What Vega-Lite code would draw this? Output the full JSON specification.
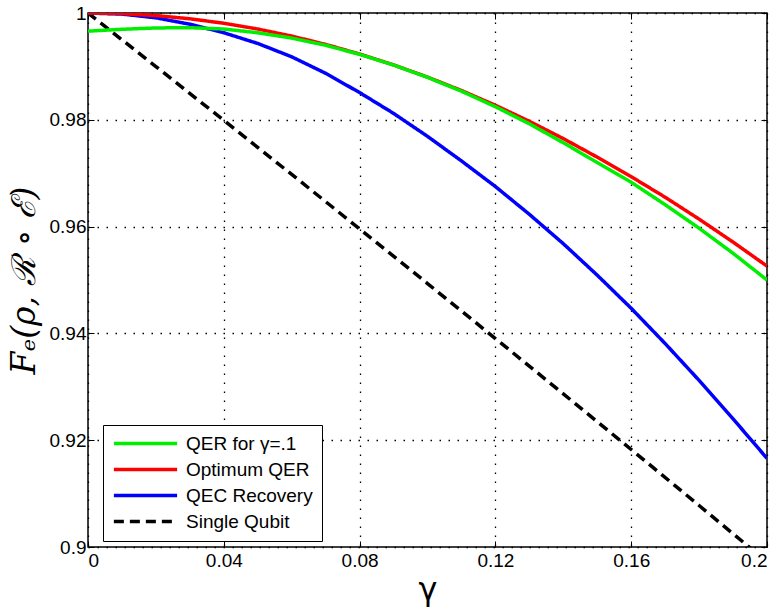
{
  "$schema": "https://vega.github.io/schema/vega-lite/v6.json",
  "autosize": "none",
  "width": 679,
  "height": 534,
  "padding": {"left": 88, "top": 13, "right": 12, "bottom": 61},
  "background": "white",
  "config": {
    "view": {"stroke": "black", "strokeWidth": 1.5},
    "font": "Liberation Sans"
  },
  "data": {"values": [
    {"g": 0.00, "F": 1.0, "s": "Single Qubit"},
    {"g": 0.02, "F": 0.98997, "s": "Single Qubit"},
    {"g": 0.04, "F": 0.97990, "s": "Single Qubit"},
    {"g": 0.06, "F": 0.96977, "s": "Single Qubit"},
    {"g": 0.08, "F": 0.95958, "s": "Single Qubit"},
    {"g": 0.10, "F": 0.94934, "s": "Single Qubit"},
    {"g": 0.12, "F": 0.93904, "s": "Single Qubit"},
    {"g": 0.14, "F": 0.92868, "s": "Single Qubit"},
    {"g": 0.16, "F": 0.91826, "s": "Single Qubit"},
    {"g": 0.18, "F": 0.90777, "s": "Single Qubit"},
    {"g": 0.20, "F": 0.89721, "s": "Single Qubit"},
    {"g": 0.00, "F": 1.0, "s": "QEC Recovery"},
    {"g": 0.01, "F": 0.9998, "s": "QEC Recovery"},
    {"g": 0.02, "F": 0.9991, "s": "QEC Recovery"},
    {"g": 0.03, "F": 0.9979, "s": "QEC Recovery"},
    {"g": 0.04, "F": 0.9963, "s": "QEC Recovery"},
    {"g": 0.05, "F": 0.9943, "s": "QEC Recovery"},
    {"g": 0.06, "F": 0.9918, "s": "QEC Recovery"},
    {"g": 0.07, "F": 0.9887, "s": "QEC Recovery"},
    {"g": 0.08, "F": 0.9851, "s": "QEC Recovery"},
    {"g": 0.09, "F": 0.9812, "s": "QEC Recovery"},
    {"g": 0.10, "F": 0.9769, "s": "QEC Recovery"},
    {"g": 0.11, "F": 0.9723, "s": "QEC Recovery"},
    {"g": 0.12, "F": 0.9675, "s": "QEC Recovery"},
    {"g": 0.13, "F": 0.9623, "s": "QEC Recovery"},
    {"g": 0.14, "F": 0.9568, "s": "QEC Recovery"},
    {"g": 0.15, "F": 0.9509, "s": "QEC Recovery"},
    {"g": 0.16, "F": 0.9447, "s": "QEC Recovery"},
    {"g": 0.17, "F": 0.9381, "s": "QEC Recovery"},
    {"g": 0.18, "F": 0.9312, "s": "QEC Recovery"},
    {"g": 0.19, "F": 0.9240, "s": "QEC Recovery"},
    {"g": 0.20, "F": 0.9166, "s": "QEC Recovery"},
    {"g": 0.00, "F": 1.0, "s": "Optimum QER"},
    {"g": 0.01, "F": 0.99988, "s": "Optimum QER"},
    {"g": 0.02, "F": 0.99952, "s": "Optimum QER"},
    {"g": 0.03, "F": 0.99892, "s": "Optimum QER"},
    {"g": 0.04, "F": 0.99808, "s": "Optimum QER"},
    {"g": 0.05, "F": 0.99700, "s": "Optimum QER"},
    {"g": 0.06, "F": 0.99568, "s": "Optimum QER"},
    {"g": 0.07, "F": 0.99412, "s": "Optimum QER"},
    {"g": 0.08, "F": 0.99232, "s": "Optimum QER"},
    {"g": 0.09, "F": 0.99028, "s": "Optimum QER"},
    {"g": 0.10, "F": 0.98800, "s": "Optimum QER"},
    {"g": 0.11, "F": 0.98548, "s": "Optimum QER"},
    {"g": 0.12, "F": 0.98272, "s": "Optimum QER"},
    {"g": 0.13, "F": 0.97972, "s": "Optimum QER"},
    {"g": 0.14, "F": 0.97648, "s": "Optimum QER"},
    {"g": 0.15, "F": 0.97300, "s": "Optimum QER"},
    {"g": 0.16, "F": 0.96935, "s": "Optimum QER"},
    {"g": 0.17, "F": 0.96550, "s": "Optimum QER"},
    {"g": 0.18, "F": 0.96140, "s": "Optimum QER"},
    {"g": 0.19, "F": 0.95710, "s": "Optimum QER"},
    {"g": 0.20, "F": 0.95260, "s": "Optimum QER"},
    {"g": 0.00, "F": 0.99660, "s": "QER for γ=.1"},
    {"g": 0.01, "F": 0.99695, "s": "QER for γ=.1"},
    {"g": 0.02, "F": 0.99720, "s": "QER for γ=.1"},
    {"g": 0.03, "F": 0.99725, "s": "QER for γ=.1"},
    {"g": 0.04, "F": 0.99700, "s": "QER for γ=.1"},
    {"g": 0.05, "F": 0.99630, "s": "QER for γ=.1"},
    {"g": 0.06, "F": 0.99530, "s": "QER for γ=.1"},
    {"g": 0.07, "F": 0.99395, "s": "QER for γ=.1"},
    {"g": 0.08, "F": 0.99225, "s": "QER for γ=.1"},
    {"g": 0.09, "F": 0.99025, "s": "QER for γ=.1"},
    {"g": 0.10, "F": 0.98795, "s": "QER for γ=.1"},
    {"g": 0.11, "F": 0.98535, "s": "QER for γ=.1"},
    {"g": 0.12, "F": 0.98245, "s": "QER for γ=.1"},
    {"g": 0.13, "F": 0.97925, "s": "QER for γ=.1"},
    {"g": 0.14, "F": 0.97570, "s": "QER for γ=.1"},
    {"g": 0.15, "F": 0.97200, "s": "QER for γ=.1"},
    {"g": 0.16, "F": 0.96830, "s": "QER for γ=.1"},
    {"g": 0.17, "F": 0.96410, "s": "QER for γ=.1"},
    {"g": 0.18, "F": 0.95970, "s": "QER for γ=.1"},
    {"g": 0.19, "F": 0.95500, "s": "QER for γ=.1"},
    {"g": 0.20, "F": 0.95000, "s": "QER for γ=.1"}
  ]},
  "resolve": {"axis": {"x": "independent", "y": "independent"}},
  "layer": [
    {
      "mark": {"type": "line", "clip": true, "strokeWidth": 3.5},
      "encoding": {
        "x": {"field": "g", "type": "quantitative",
          "scale": {"domain": [0, 0.2], "nice": false, "zero": false},
          "axis": {"values": [0, 0.04, 0.08, 0.12, 0.16, 0.2], "format": "~g",
            "title": "γ", "titleFont": "DejaVu Sans", "titleFontSize": 32, "titleFontWeight": "normal",
            "titlePadding": 4, "labelFontSize": 19, "labelPadding": 10, "labelColor": "black",
            "domain": false, "tickColor": "black", "tickSize": -6, "tickWidth": 1,
            "grid": true, "gridColor": "black", "gridDash": [1.5, 7.5], "gridWidth": 1.3, "gridOpacity": 1}},
        "y": {"field": "F", "type": "quantitative",
          "scale": {"domain": [0.9, 1], "nice": false, "zero": false},
          "axis": {"values": [0.9, 0.92, 0.94, 0.96, 0.98, 1], "format": "~g",
            "title": "Fₑ(ρ, ℛ ∘ ℰ)", "titleFont": "DejaVu Serif", "titleFontStyle": "italic", "titleFontSize": 33, "titleFontWeight": "normal",
            "titlePadding": 8, "labelFontSize": 19, "labelPadding": 8, "labelColor": "black",
            "domain": false, "tickColor": "black", "tickSize": -6, "tickWidth": 1,
            "grid": true, "gridColor": "black", "gridDash": [1.5, 7.5], "gridWidth": 1.3, "gridOpacity": 1}},
        "color": {"field": "s", "type": "nominal",
          "scale": {"domain": ["QER for γ=.1", "Optimum QER", "QEC Recovery", "Single Qubit"],
                    "range": ["#00ee00", "#ff0000", "#0000ff", "#000000"]},
          "legend": {"title": null, "orient": "none", "legendX": 15, "legendY": 412,
            "symbolType": "stroke", "symbolSize": 4000, "symbolStrokeWidth": 3.5,
            "clipHeight": 19,
            "labelFontSize": 19, "labelColor": "black", "labelOffset": 7,
            "rowPadding": 6, "padding": 9, "strokeColor": "black", "fillColor": "white",
            "cornerRadius": 0}},
        "strokeDash": {"field": "s", "type": "nominal",
          "scale": {"domain": ["QER for γ=.1", "Optimum QER", "QEC Recovery", "Single Qubit"],
                    "range": [[1, 0], [1, 0], [1, 0], [10, 6]]},
          "legend": {"title": null}},
        "order": {"field": "g", "type": "quantitative"}
      }
    },
    {
      "mark": {"type": "line", "opacity": 0},
      "encoding": {
        "x": {"field": "g", "type": "quantitative",
          "axis": {"orient": "top", "values": [0, 0.04, 0.08, 0.12, 0.16, 0.2], "labels": false, "title": null,
            "domain": false, "tickColor": "black", "tickSize": -6, "tickWidth": 1, "grid": false}},
        "y": {"field": "F", "type": "quantitative",
          "axis": {"orient": "right", "values": [0.9, 0.92, 0.94, 0.96, 0.98, 1], "labels": false, "title": null,
            "domain": false, "tickColor": "black", "tickSize": -6, "tickWidth": 1, "grid": false}},
        "detail": {"field": "s"}
      }
    }
  ]
}
